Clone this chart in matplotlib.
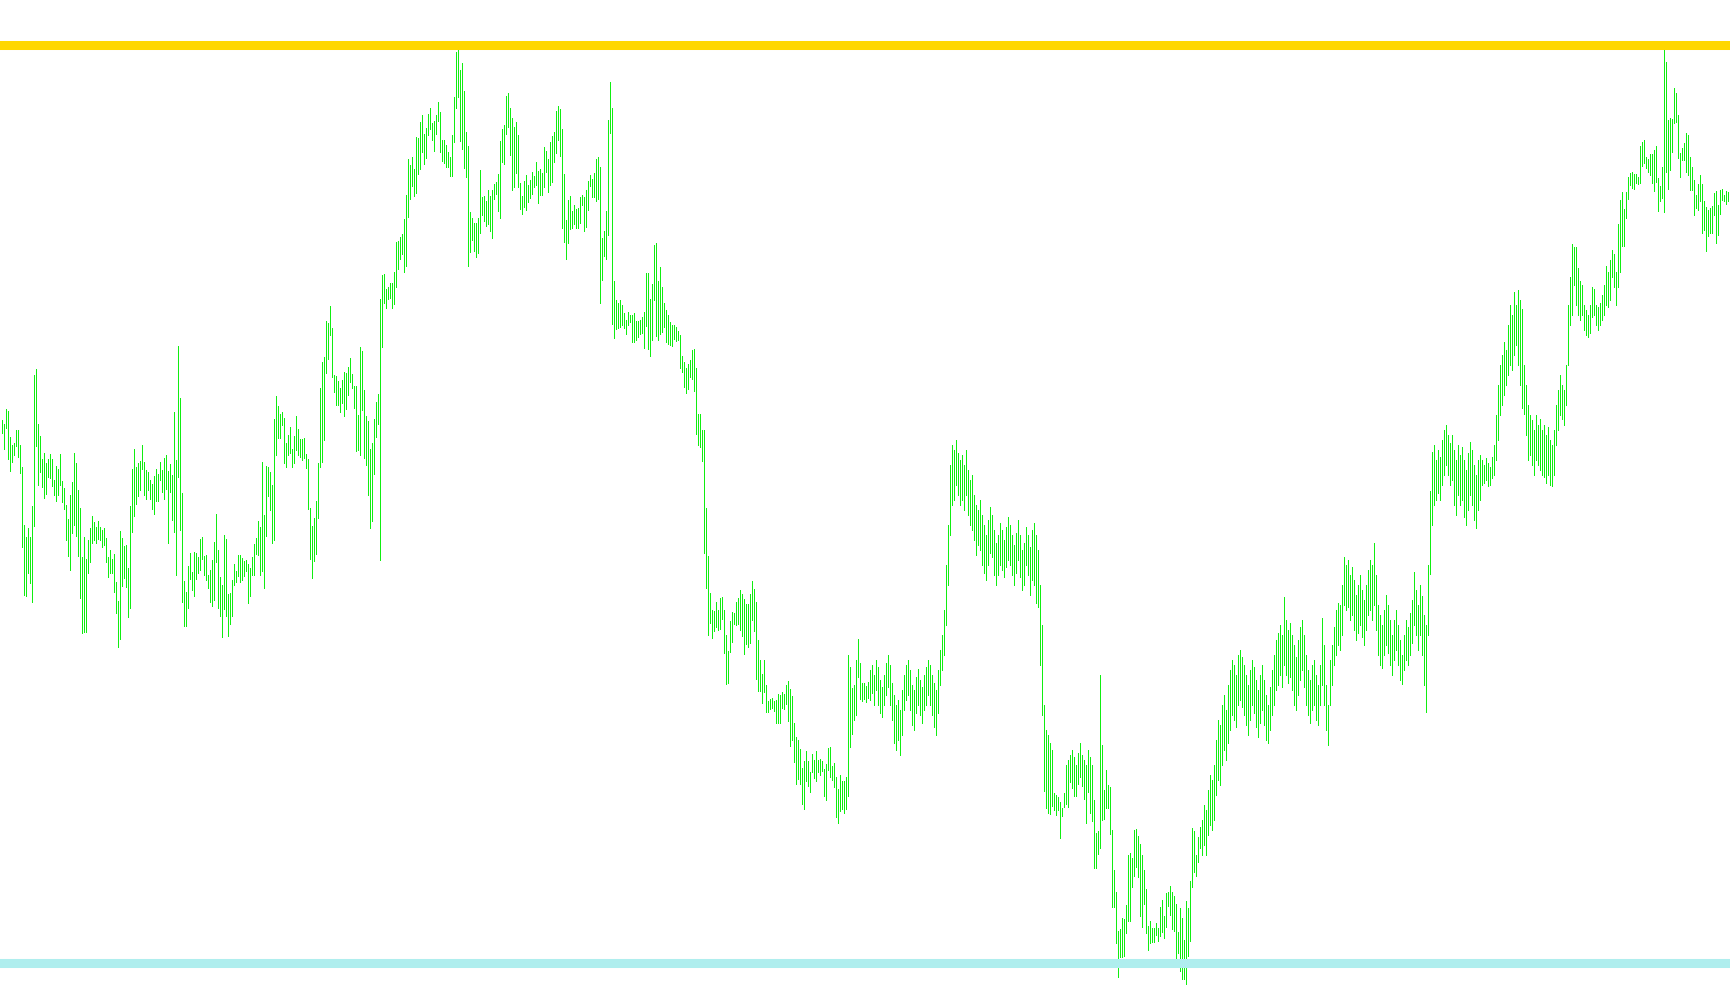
import matplotlib
matplotlib.use('Agg')
import matplotlib.pyplot as plt
import numpy as np


# bar highs, one value per bar (left to right)
bar_high = [
    585, 581, 596, 594, 568, 560, 562, 575, 575, 560, 538, 480, 468, 477, 468, 499, 630, 636, 581, 569,
    546, 552, 542, 546, 551, 546, 525, 539, 536, 551, 524, 517, 500, 486, 510, 523, 552, 542, 515, 497,
    448, 468, 446, 465, 477, 489, 483, 478, 484, 478, 475, 477, 467, 448, 455, 446, 451, 423, 404, 474,
    467, 459, 460, 437, 499, 536, 556, 538, 542, 544, 560, 543, 535, 533, 525, 521, 529, 536, 531, 543,
    535, 547, 550, 534, 541, 530, 593, 545, 659, 607, 512, 424, 413, 439, 452, 433, 453, 452, 448, 466,
    468, 449, 450, 430, 435, 445, 463, 491, 455, 428, 420, 470, 466, 411, 412, 425, 441, 434, 450, 450,
    447, 444, 445, 441, 437, 448, 461, 467, 484, 478, 543, 490, 539, 538, 533, 520, 586, 609, 599, 591,
    593, 587, 562, 570, 578, 556, 569, 589, 576, 566, 566, 567, 551, 546, 497, 479, 487, 504, 542, 617,
    643, 648, 684, 682, 699, 677, 630, 629, 624, 617, 625, 633, 632, 638, 647, 631, 619, 619, 590, 658,
    654, 615, 589, 584, 556, 562, 586, 603, 611, 706, 730, 731, 716, 718, 722, 722, 733, 763, 764, 768,
    771, 786, 810, 846, 840, 848, 836, 868, 867, 883, 890, 871, 877, 891, 897, 882, 884, 890, 903, 893,
    865, 865, 860, 853, 848, 870, 908, 953, 956, 935, 942, 914, 873, 859, 793, 787, 782, 782, 787, 835,
    808, 809, 804, 815, 809, 815, 821, 823, 831, 864, 876, 880, 909, 912, 897, 887, 878, 883, 870, 822,
    809, 824, 830, 820, 825, 833, 829, 843, 834, 836, 832, 858, 854, 846, 863, 869, 873, 894, 899, 896,
    876, 831, 785, 805, 809, 794, 800, 796, 797, 808, 810, 808, 815, 824, 830, 826, 832, 846, 848, 838,
    767, 774, 794, 885, 923, 897, 724, 705, 702, 705, 700, 692, 685, 693, 690, 690, 692, 684, 684, 685,
    688, 693, 732, 732, 706, 721, 760, 762, 724, 738, 718, 702, 695, 690, 683, 680, 680, 678, 674, 670,
    649, 643, 637, 641, 645, 655, 656, 637, 591, 591, 575, 575, 497, 449, 412, 395, 394, 403, 395, 407,
    408, 395, 370, 354, 384, 393, 392, 403, 407, 415, 411, 406, 401, 401, 411, 424, 416, 403, 365, 345,
    331, 345, 320, 304, 306, 307, 304, 305, 311, 310, 313, 311, 320, 324, 316, 309, 282, 268, 265, 256,
    237, 244, 254, 244, 233, 251, 245, 254, 245, 246, 244, 236, 241, 257, 258, 239, 242, 228, 216, 230,
    224, 224, 228, 350, 338, 317, 320, 345, 366, 342, 322, 322, 319, 323, 335, 340, 330, 345, 338, 325,
    318, 330, 342, 350, 340, 322, 310, 300, 305, 295, 315, 330, 340, 345, 335, 320, 315, 328, 336, 325,
    318, 330, 338, 345, 340, 330, 322, 315, 335, 355, 370, 395, 440, 480, 540, 560, 555, 565, 552, 545,
    550, 540, 555, 535, 525, 530, 510, 500, 495, 505, 490, 480, 470, 485, 498, 490, 475, 462, 470, 482,
    475, 465, 478, 488, 480, 470, 460, 472, 485, 470, 455, 462, 478, 470, 458, 475, 482, 470, 455, 420,
    380, 300, 275, 270, 262, 255, 212, 210, 208, 203, 197, 212, 240, 245, 250, 255, 248, 240, 252, 262,
    250, 245, 240, 255, 248, 240, 205, 172, 174, 330, 260, 215, 235, 220, 218, 175, 135, 113, 74, 76,
    87, 86, 100, 150, 152, 147, 175, 176, 169, 161, 150, 135, 116, 79, 84, 77, 77, 82, 77, 98,
    105, 89, 112, 113, 119, 113, 109, 101, 73, 97, 87, 65, 104, 97, 124, 177, 174, 150, 168, 178,
    185, 200, 195, 215, 230, 225, 240, 265, 285, 280, 300, 310, 295, 320, 335, 345, 340, 330, 350, 355,
    348, 340, 330, 320, 335, 345, 338, 325, 315, 330, 340, 325, 310, 300, 318, 335, 350, 365, 372, 380,
    370, 408, 385, 375, 382, 370, 360, 348, 365, 378, 385, 370, 350, 335, 325, 340, 345, 330, 320, 340,
    387, 360, 320, 300, 345, 360, 378, 395, 402, 400, 420, 448, 440, 445, 430, 438, 425, 410, 420, 430,
    415, 405, 420, 435, 445, 440, 462, 430, 400, 390, 380, 395, 410, 400, 385, 370, 385, 395, 380, 365,
    350, 370, 385, 378, 392, 405, 433, 415, 400, 420, 409, 390, 380, 440, 514, 553, 560, 545, 555, 548,
    565, 575, 580, 570, 562, 570, 555, 545, 560, 550, 558, 545, 535, 552, 563, 555, 540, 530, 545, 550,
    545, 540, 547, 542, 538, 548, 560, 590, 620, 640, 650, 663, 655, 680, 700, 690, 713, 700, 715, 705,
    696, 640, 620, 600, 590, 585, 575, 590, 580, 586, 575, 580, 570, 578, 565, 560, 575, 600, 615, 630,
    620, 615, 640, 700, 728, 761, 758, 758, 737, 724, 720, 700, 695, 690, 700, 718, 716, 700, 698, 702,
    710, 720, 739, 733, 745, 755, 751, 733, 781, 805, 813, 796, 813, 828, 832, 833, 831, 831, 828, 859,
    863, 865, 848, 846, 851, 851, 855, 859, 827, 819, 838, 956, 943, 885, 887, 886, 917, 912, 890, 852,
    857, 862, 872, 870, 848, 838, 825, 810, 821, 830, 821, 804, 798, 795, 797, 799, 812, 814, 800, 815,
    816, 810, 814, 813, 817,
]

# bar lows, same order
bar_low = [
    572, 556, 577, 546, 534, 543, 550, 559, 548, 532, 458, 410, 409, 432, 422, 403, 479, 559, 520, 533,
    518, 507, 511, 528, 527, 519, 510, 504, 510, 520, 503, 496, 465, 449, 435, 472, 480, 469, 449, 407,
    372, 373, 373, 432, 443, 462, 465, 462, 466, 465, 458, 460, 443, 428, 432, 432, 413, 392, 358, 366,
    419, 427, 418, 388, 397, 473, 489, 501, 509, 515, 536, 510, 506, 515, 506, 496, 491, 504, 504, 525,
    513, 506, 516, 462, 513, 485, 473, 430, 528, 475, 403, 379, 379, 397, 426, 415, 409, 426, 432, 435,
    446, 430, 425, 417, 403, 399, 405, 443, 397, 389, 368, 396, 389, 369, 381, 389, 420, 423, 429, 423,
    425, 429, 434, 402, 409, 430, 430, 451, 450, 430, 434, 417, 469, 509, 495, 462, 465, 550, 567, 567,
    580, 542, 538, 550, 552, 538, 542, 555, 550, 548, 545, 547, 537, 496, 446, 427, 444, 451, 487, 538,
    543, 565, 632, 646, 670, 628, 613, 600, 600, 593, 602, 589, 596, 610, 623, 617, 597, 554, 555, 550,
    595, 547, 540, 510, 477, 484, 531, 568, 581, 445, 658, 702, 697, 706, 707, 697, 701, 718, 736, 746,
    751, 733, 739, 788, 806, 819, 809, 812, 831, 836, 853, 841, 847, 870, 876, 865, 854, 871, 884, 853,
    844, 842, 838, 838, 829, 829, 863, 897, 908, 864, 856, 837, 828, 739, 753, 765, 754, 748, 752, 772,
    790, 784, 779, 781, 774, 767, 806, 811, 794, 787, 843, 841, 871, 878, 850, 815, 818, 832, 818, 796,
    791, 798, 795, 803, 807, 811, 818, 820, 802, 810, 810, 818, 833, 813, 820, 823, 843, 852, 865, 849,
    777, 763, 746, 762, 776, 777, 781, 777, 777, 782, 800, 774, 778, 795, 819, 808, 808, 804, 806, 702,
    725, 749, 746, 770, 872, 681, 667, 676, 677, 678, 680, 677, 671, 680, 683, 663, 663, 665, 668, 671,
    672, 657, 679, 656, 649, 665, 705, 669, 665, 671, 673, 678, 663, 661, 660, 659, 666, 664, 665, 637,
    633, 618, 612, 616, 628, 626, 614, 571, 560, 558, 544, 452, 417, 370, 382, 367, 374, 378, 375, 376,
    386, 352, 321, 322, 353, 363, 381, 380, 381, 375, 369, 351, 361, 358, 362, 385, 374, 326, 314, 314,
    302, 313, 293, 293, 296, 297, 294, 282, 282, 282, 297, 296, 301, 284, 259, 265, 243, 221, 226, 221,
    201, 196, 224, 219, 213, 233, 227, 224, 233, 230, 234, 209, 205, 235, 228, 225, 218, 188, 182, 194,
    196, 192, 196, 209, 258, 271, 285, 290, 328, 306, 304, 306, 303, 307, 305, 312, 300, 315, 300, 292,
    288, 300, 310, 318, 300, 285, 262, 255, 265, 250, 270, 295, 305, 310, 295, 280, 275, 292, 300, 290,
    282, 295, 300, 310, 300, 290, 278, 270, 292, 320, 335, 350, 380, 420, 470, 500, 505, 520, 510, 500,
    505, 495, 510, 490, 480, 475, 465, 450, 460, 455, 440, 432, 425, 440, 452, 448, 430, 420, 430, 440,
    435, 428, 438, 445, 440, 430, 420, 432, 445, 428, 415, 420, 440, 430, 410, 425, 420, 402, 398, 340,
    290, 214, 197, 192, 191, 199, 195, 190, 195, 167, 189, 198, 201, 198, 223, 217, 209, 209, 221, 228,
    219, 206, 182, 213, 192, 184, 137, 137, 151, 157, 185, 186, 197, 197, 171, 98, 98, 62, 28, 48,
    48, 49, 72, 84, 84, 118, 129, 138, 128, 89, 78, 101, 72, 55, 62, 63, 63, 70, 64, 69,
    73, 67, 78, 99, 90, 76, 74, 47, 52, 34, 26, 26, 21, 49, 64, 118, 133, 129, 143, 157,
    150, 160, 150, 170, 180, 175, 185, 210, 225, 220, 240, 255, 245, 262, 275, 290, 285, 278, 300, 305,
    298, 290, 280, 270, 285, 300, 292, 278, 268, 282, 295, 280, 265, 262, 275, 290, 300, 315, 320, 330,
    318, 340, 330, 322, 328, 315, 300, 295, 310, 325, 335, 318, 300, 290, 282, 295, 300, 285, 280, 300,
    320, 300, 275, 260, 300, 320, 340, 350, 360, 355, 370, 400, 395, 398, 385, 390, 375, 365, 372, 380,
    368, 360, 375, 390, 395, 385, 400, 375, 350, 340, 337, 350, 360, 352, 340, 330, 345, 355, 340, 325,
    321, 335, 345, 340, 350, 362, 380, 370, 355, 370, 350, 320, 293, 370, 431, 480, 500, 505, 512, 505,
    520, 530, 540, 530, 520, 525, 500, 490, 510, 500, 505, 488, 480, 495, 510, 500, 485, 477, 495, 505,
    520, 522, 525, 519, 520, 527, 530, 545, 565, 590, 600, 610, 620, 630, 640, 635, 650, 660, 640, 620,
    597, 591, 570, 545, 550, 540, 530, 545, 540, 535, 530, 528, 522, 530, 520, 519, 530, 560, 575, 590,
    586, 580, 600, 640, 680, 690, 720, 700, 690, 685, 690, 675, 670, 668, 672, 688, 690, 680, 675, 680,
    685, 690, 700, 698, 705, 728, 718, 700, 718, 733, 759, 759, 787, 806, 820, 817, 816, 822, 821, 822,
    839, 842, 837, 833, 830, 822, 814, 823, 794, 804, 807, 793, 833, 816, 835, 853, 882, 883, 847, 828,
    845, 845, 833, 830, 815, 815, 790, 797, 795, 804, 772, 775, 754, 769, 772, 772, 790, 762, 770, 791,
    805, 804, 801, 804, 804,
]

# horizontal levels
resistance = 960.5
support = 42.5


def main():
    x = np.arange(len(bar_high))

    fig = plt.figure(figsize=(17.3, 10.05), dpi=100)
    ax = fig.add_axes([0, 0, 1, 1])

    # high-low bars, crisp 1 px lines
    ax.vlines(x, bar_low, bar_high, colors='#11ee11', linewidth=0.72, antialiased=False)

    # levels, about 9 px thick
    ax.axhline(resistance, color='gold', linewidth=6.5, zorder=3)
    ax.axhline(support, color='paleturquoise', linewidth=6.5, zorder=3)

    ax.set_xlim(-0.75, len(bar_high) - 0.75)
    ax.set_ylim(0, 1005)
    ax.axis('off')
    fig.savefig('out.png', dpi=100)


if __name__ == "__main__":
    main()
